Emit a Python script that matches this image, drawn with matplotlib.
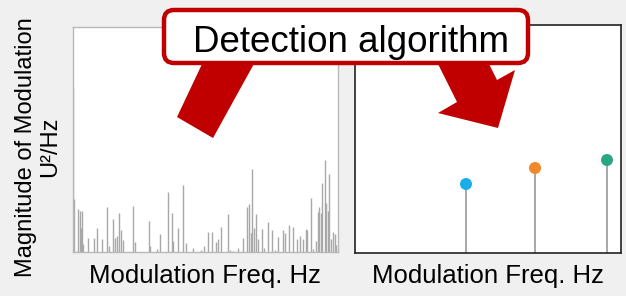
import matplotlib
matplotlib.use("Agg")
import matplotlib.pyplot as plt
from matplotlib.patches import FancyBboxPatch, Polygon

plt.rcParams['font.family'] = ['Liberation Sans', 'DejaVu Sans']

# ---------------- data ----------------
noise_freq = [0.5, 1.0, 4.2, 5.8, 7.5, 8.2, 9.2, 10.8, 15.8, 21.8, 24.8, 29.2, 34.8, 36.8,
              40.2, 42.5, 44.2, 46.5, 48.5, 50.2, 60.2, 62.5, 76.8, 77.5, 84.8, 87.5,
              95.2, 99.5, 100.8, 105.2, 110.2, 113.2, 120.8, 128.5, 131.5, 135.8, 139.2,
              143.2, 145.2, 148.8, 155.2, 157.5, 160.8, 165.2, 170.2, 174.2, 176.5, 178.2,
              179.8, 181.5, 183.5, 185.8, 189.2, 191.5, 195.5, 199.8, 202.8, 205.8, 210.2,
              212.8, 216.5, 220.8, 224.2, 227.5, 230.2, 233.2, 234.8, 238.2, 240.8, 243.5,
              245.2, 246.8, 248.5, 249.5, 252.5, 253.8, 255.2, 256.5, 258.2, 260.2, 262.5,
              263.5]
noise_mag = [164, 53, 1, 43, 41, 24, 41, 8, 14, 14, 24, 13, 45, 6,
             33, 14, 16, 39, 22, 12, 46, 10, 31, 6, 3, 18,
             60, 39, 11, 24, 67, 9, 4, 2, 6, 20, 20,
             10, 13, 25, 38, 2, 1, 4, 14, 45, 48, 19,
             83, 24, 38, 13, 23, 4, 30, 22, 2, 15, 22,
             19, 27, 25, 13, 16, 13, 23, 22, 54, 3, 11,
             40, 45, 39, 69, 92, 49, 41, 78, 13, 20, 18,
             7]

peak_freq = [111, 180, 252]
peak_mag = [69, 85, 93]
peak_colors = ['#1aaee8', '#f5872b', '#2aa682']

xlabel_text = 'Modulation Freq. Hz'
ylabel_text = 'Magnitude of Modulation\nU\u00b2/Hz'
callout_text = 'Detection algorithm'

# ---------------- figure ----------------
W, H = 626, 296
fig = plt.figure(figsize=(W / 100, H / 100), dpi=100)
fig.patch.set_facecolor('#f0f0f0')

def px_axes(x0, y0, x1, y1):
    return fig.add_axes([x0 / W, 1 - y1 / H, (x1 - x0) / W, (y1 - y0) / H])

# left: raw spectrum
ax1 = px_axes(72.5, 26.5, 337.5, 251.5)
ax1.vlines(noise_freq, 0, noise_mag, colors='#a8a8a8', linewidth=1.0)
ax1.set_xlim(0, 265)
ax1.set_ylim(0, 225)
ax1.set_xticks([])
ax1.set_yticks([])
for s in ax1.spines.values():
    s.set_color('#b8b8b8')
    s.set_linewidth(1.0)
ax1.set_facecolor('white')

# right: detected peaks
ax2 = px_axes(355, 25, 621, 253)
ax2.vlines(peak_freq, 0, peak_mag, colors='#a0a0a0', linewidth=1.3)
ax2.scatter(peak_freq, peak_mag, c=peak_colors, s=75, marker='o', zorder=3,
            edgecolors='none')
ax2.set_xlim(0, 266)
ax2.set_ylim(0, 228)
ax2.set_xticks([])
ax2.set_yticks([])
for s in ax2.spines.values():
    s.set_color('#222222')
    s.set_linewidth(1.2)
ax2.set_facecolor('white')

# axis labels
fig.text(205 / W, 1 - 276 / H, xlabel_text, ha='center', va='center', fontsize=18.5)
fig.text(488 / W, 1 - 276 / H, xlabel_text, ha='center', va='center', fontsize=18.5)
fig.text(38 / W, 1 - 147 / H, ylabel_text, ha='center', va='center', fontsize=17,
         rotation=90, multialignment='center', linespacing=1.15)

# overlay for callout (pixel coordinates)
ov = fig.add_axes([0, 0, 1, 1])
ov.set_xlim(0, W)
ov.set_ylim(H, 0)
ov.axis('off')
ov.patch.set_alpha(0)

red = '#c00000'
left_arrow = [(203, 62), (255, 62), (213, 138), (177, 117)]
right_arrow = [(437, 62), (488, 62), (497, 80), (515, 70), (498, 128), (438, 113), (457, 102)]
ov.add_patch(Polygon(left_arrow, closed=True, facecolor=red, edgecolor='none', zorder=2))
ov.add_patch(Polygon(right_arrow, closed=True, facecolor=red, edgecolor='none', zorder=2))

box = FancyBboxPatch((164, 10), 364, 53, boxstyle='round,pad=0,rounding_size=10',
                     facecolor='white', edgecolor=red, linewidth=3.2, zorder=3)
ov.add_patch(box)
ov.text(351, 52, callout_text, ha='center', va='baseline', fontsize=26.5, zorder=4)

fig.savefig('out.png', dpi=100, facecolor=fig.get_facecolor())
